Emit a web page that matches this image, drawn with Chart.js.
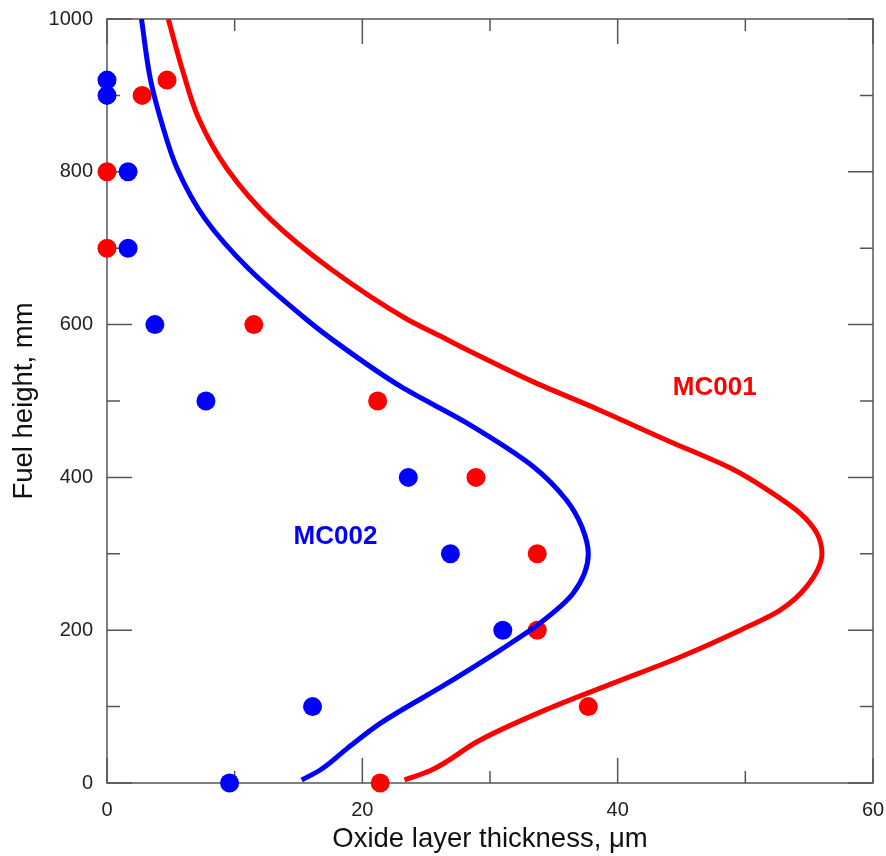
<!DOCTYPE html>
<html>
<head>
<meta charset="utf-8">
<script src="https://cdn.jsdelivr.net/npm/chart.js"></script>
<style>
  body { margin: 0; background: #fff; }
  #wrap { width: 886px; height: 856px; }
</style>
</head>
<body>
<div id="wrap">
  <canvas id="oxideChart"></canvas>
</div>

<script>
  // measured points, fuel height (mm) -> oxide thickness (um)
  const measHeights = [0, 100, 200, 300, 400, 500, 600, 700, 800, 900, 920];
  const mc001Meas = [21.4, 37.7, 33.7, 33.7, 28.9, 21.2, 11.5, 0, 0, 2.75, 4.7];
  const mc002Meas = [9.6, 16.1, 31.0, 26.9, 23.6, 7.75, 3.75, 1.65, 1.65, 0, 0];

  // calculated profiles
  const mc001CurveY = [4, 16, 56, 96, 131, 165, 200, 226, 257, 300, 327, 353, 384, 410, 449, 488, 525, 567, 585, 607, 673, 738, 804, 869, 934, 1000];
  const mc001CurveX = [23.3, 25.3, 29.2, 34.4, 39.7, 44.9, 49.6, 52.7, 54.8, 56.0, 55.6, 54.3, 51.7, 49.1, 43.8, 38.6, 33.4, 28.2, 26.1, 23.5, 17.5, 12.8, 9.4, 7.2, 5.9, 4.8];
  const mc002CurveY = [4, 17, 45, 78, 130, 174, 209, 248, 300, 335, 370, 414, 471, 519, 581, 607, 673, 738, 804, 869, 921, 1000];
  const mc002CurveX = [15.25, 16.7, 18.8, 21.4, 26.6, 30.8, 33.9, 36.5, 37.7, 37.2, 36.0, 33.4, 28.2, 23.0, 17.6, 15.6, 11.1, 7.7, 5.5, 4.2, 3.4, 2.7];

  const xTicks = [0, 20, 40, 60];
  const yTicks = [0, 200, 400, 600, 800, 1000];

  const seriesLabels = [
    { text: 'MC001', x: 47.6, y: 517, color: '#ff0000' },
    { text: 'MC002', x: 17.9, y: 322, color: '#0000ff' }
  ];

  const FONT = '"Liberation Sans", Arial, sans-serif';
  const pts = (xs, ys) => xs.map((v, i) => ({ x: v, y: ys[i] }));

  // box frame + inward ticks, under the data
  const frameTicks = {
    id: 'frameTicks',
    beforeDatasetsDraw(chart) {
      const { ctx, chartArea: a, scales: { x, y } } = chart;
      ctx.save();
      ctx.strokeStyle = '#555';
      ctx.lineWidth = 1.5;
      ctx.strokeRect(a.left, a.top, a.right - a.left, a.bottom - a.top);
      for (let v = 0; v <= 60; v += 10) {
        const px = x.getPixelForValue(v);
        const len = v % 20 === 0 ? 25 : 12;
        ctx.beginPath();
        ctx.moveTo(px, a.bottom); ctx.lineTo(px, a.bottom - len);
        ctx.moveTo(px, a.top); ctx.lineTo(px, a.top + len);
        ctx.stroke();
      }
      for (let v = 0; v <= 1000; v += 100) {
        const py = y.getPixelForValue(v);
        const len = v % 200 === 0 ? 25 : 13;
        ctx.beginPath();
        ctx.moveTo(a.left, py); ctx.lineTo(a.left + len, py);
        ctx.moveTo(a.right, py); ctx.lineTo(a.right - len, py);
        ctx.stroke();
      }
      ctx.restore();
    },
    afterDatasetsDraw(chart) {
      const { ctx, scales: { x, y } } = chart;
      ctx.save();
      ctx.font = 'bold 26px ' + FONT;
      ctx.textAlign = 'center';
      ctx.textBaseline = 'middle';
      seriesLabels.forEach(l => {
        ctx.fillStyle = l.color;
        ctx.fillText(l.text, x.getPixelForValue(l.x), y.getPixelForValue(l.y));
      });
      ctx.restore();
    }
  };

  const curve = (label, xs, ys, color) => ({
    type: 'line', label, data: pts(xs, ys), indexAxis: 'y',
    cubicInterpolationMode: 'monotone', borderColor: color, borderWidth: 5,
    pointRadius: 0, fill: false
  });
  const dots = (label, xs, ys, color) => ({
    label, data: pts(xs, ys), backgroundColor: color, borderWidth: 0,
    pointRadius: 9.5, clip: false
  });

  const ctx = document.getElementById('oxideChart');

  new Chart(ctx, {
    type: 'scatter',
    data: {
      datasets: [
        curve('MC001 calc', mc001CurveX, mc001CurveY, '#ff0000'),
        curve('MC002 calc', mc002CurveX, mc002CurveY, '#0000ff'),
        dots('MC001', mc001Meas, measHeights, '#ff0000'),
        dots('MC002', mc002Meas, measHeights, '#0000ff')
      ]
    },
    options: {
      responsive: true,
      maintainAspectRatio: false,
      animation: false,
      layout: { padding: { top: 19, right: 13, left: 0, bottom: 0 } },
      plugins: {
        legend: { display: false },
        tooltip: { enabled: false }
      },
      scales: {
        x: {
          type: 'linear', position: 'bottom', min: 0, max: 60,
          grid: { display: false, drawTicks: false },
          border: { display: false },
          afterBuildTicks: s => { s.ticks = xTicks.map(v => ({ value: v })); },
          afterFit: s => { s.height = 73; s.paddingLeft = 0; s.paddingRight = 0; },
          ticks: { color: '#222', font: { family: FONT, size: 20 }, padding: 15, maxRotation: 0, callback: v => String(v) },
          title: { display: true, text: 'Oxide layer thickness, \u03bcm', color: '#111', font: { family: FONT, size: 27.5 }, padding: { top: 0, bottom: 0 } }
        },
        y: {
          type: 'linear', position: 'left', min: 0, max: 1000,
          grid: { display: false, drawTicks: false },
          border: { display: false },
          afterBuildTicks: s => { s.ticks = yTicks.map(v => ({ value: v })); },
          afterFit: s => { s.width = 107; s.paddingTop = 0; s.paddingBottom = 0; },
          ticks: { color: '#222', font: { family: FONT, size: 20 }, padding: 14, callback: v => String(v) },
          title: { display: true, text: 'Fuel height, mm', color: '#111', font: { family: FONT, size: 27.5 }, padding: { top: 8, bottom: 0 } }
        }
      }
    },
    plugins: [frameTicks]
  });
</script>
</body>
</html>
